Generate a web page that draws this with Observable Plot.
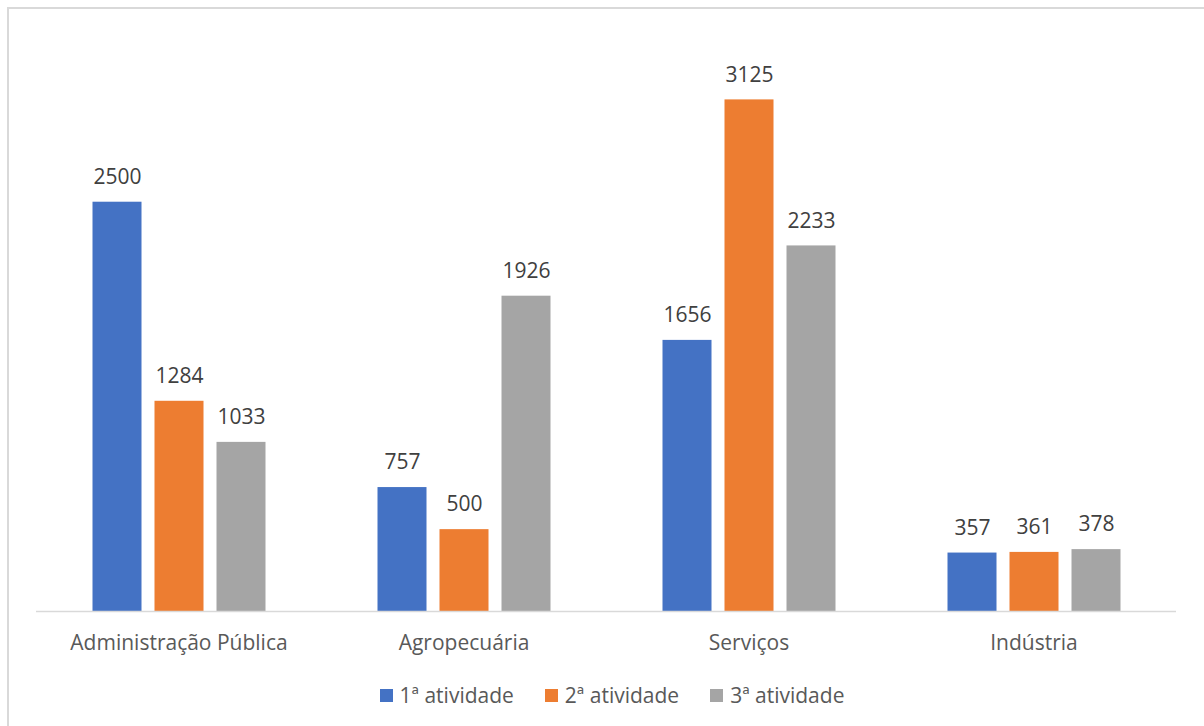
<!DOCTYPE html>
<html>
<head>
<meta charset="utf-8">
<script src="https://cdn.jsdelivr.net/npm/d3@7"></script>
<script src="https://cdn.jsdelivr.net/npm/@observablehq/plot@0.6"></script>
<style>
  html, body { margin: 0; padding: 0; background: #fff; overflow: hidden; }
  #wrap { position: relative; width: 1204px; height: 726px; }
  #frame { position: absolute; left: 7px; top: 7px; width: 1400px; height: 900px;
           border-left: 2px solid #d9d9d9; border-top: 2px solid #d9d9d9; pointer-events: none; }
  #legend { display: flex; justify-content: center; align-items: center; gap: 31px;
            font-family: "Open Sans", sans-serif; font-size: 21px; color: #595959;
            height: 30px; margin-top: 0px; padding-left: 20px; }
  #legend .item { display: flex; align-items: center; gap: 7px; }
  #legend .sw { width: 13px; height: 13px; display: inline-block; }
</style>
</head>
<body>
<div id="wrap">
  <div id="chart"></div>
  <div id="legend"></div>
  <div id="frame"></div>
</div>
<script>
const categories = ["Administração Pública", "Agropecuária", "Serviços", "Indústria"];
const series = ["1ª atividade", "2ª atividade", "3ª atividade"];
const atividade1 = [2500, 757, 1656, 357];
const atividade2 = [1284, 500, 3125, 361];
const atividade3 = [1033, 1926, 2233, 378];
const colors = ["#4472C4", "#ED7D31", "#A5A5A5"];

const seriesValues = [atividade1, atividade2, atividade3];
const data = [];
categories.forEach((c, i) => {
  series.forEach((s, j) => data.push({cat: c, serie: s, value: seriesValues[j][i]}));
});

const chart = Plot.plot({
  width: 1204,
  height: 680,
  marginLeft: 35.5,
  marginRight: 28.5,
  marginTop: 38,
  marginBottom: 69,
  style: {fontFamily: "'Open Sans', sans-serif", fontSize: "21px", color: "#595959", background: "transparent"},
  fx: {domain: categories, padding: 0, axis: "bottom", tickSize: 0, tickPadding: 24, label: null},
  x: {domain: series, axis: null, paddingInner: 0.214, paddingOuter: 0.869},
  y: {domain: [0, 3500], axis: null},
  color: {domain: series, range: colors},
  marks: [
    Plot.barY(data, {fx: "cat", x: "serie", y: "value", fill: "serie"}),
    Plot.ruleY([0], {stroke: "#d9d9d9", strokeWidth: 1.5}),
    Plot.text(data, {fx: "cat", x: "serie", y: "value", text: d => String(d.value),
                     dy: -25, fill: "#404040", fontSize: 21})
  ]
});
document.getElementById("chart").appendChild(chart);

const legend = document.getElementById("legend");
series.forEach((s, i) => {
  const item = document.createElement("div");
  item.className = "item";
  const sw = document.createElement("span");
  sw.className = "sw";
  sw.style.background = colors[i];
  const lab = document.createElement("span");
  lab.textContent = s;
  item.appendChild(sw);
  item.appendChild(lab);
  legend.appendChild(item);
});
</script>
</body>
</html>
